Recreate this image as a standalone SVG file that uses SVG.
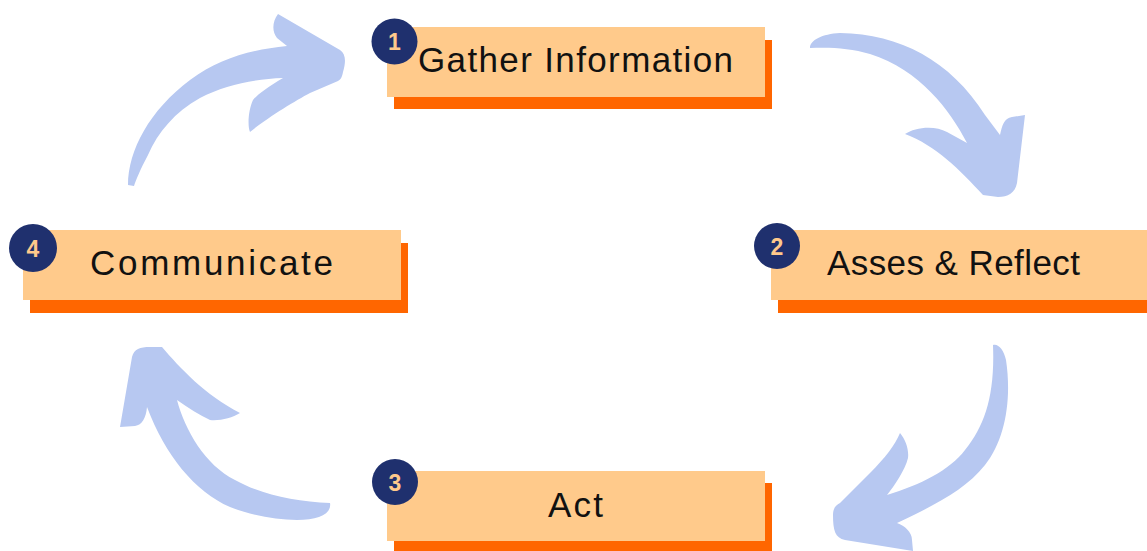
<svg xmlns="http://www.w3.org/2000/svg" width="1147" height="551" viewBox="0 0 1147 551">
<style>
.box{fill:#FFCA8B}
.sh{fill:#FF6600}
.badge{fill:#1F306E}
.num{font-family:"Liberation Sans",Arial,sans-serif;font-weight:bold;font-size:23px;fill:#FFC98B;text-anchor:middle}
.lbl{font-family:"Liberation Sans",Arial,sans-serif;font-size:35px;fill:#111111;text-anchor:middle}
.arr{fill:#B7C8F1}
</style>
<rect width="1147" height="551" fill="#FFFFFF"/>
<g id="connectors">
<path class="arr" d="M 128,185 C 128,150 150,110 190,80 C 220,58 250,50 287,46 L 277,38 C 272,32 272,22 278,14 L 340,50 C 346,54 346,62 343,72 C 342,78 340,80 338,81 L 310,93 C 295,101 267,118 250,132 C 247,125 249,108 253,100 C 258,94 268,87 283,78 C 255,79 225,85 200,98 C 175,112 158,132 148,155 C 140,170 136,180 134,186 Z"/>
<path class="arr" d="M 810,48 C 810,40 822,34 840,33 C 900,34 950,60 985,115 L 1000,135 C 1002,126 1004,118 1012,117 L 1025,115 L 1017,183 C 1015,193 1008,197 998,197 L 983,195 C 960,170 935,145 905,134 C 915,127 935,125 947,132 L 967,143 C 950,110 920,70 870,54 C 850,48 830,47 810,48 Z"/>
<path class="arr" d="M 993,345 C 998,343 1004,350 1006,360 C 1012,400 1005,440 985,465 C 965,490 935,505 897,523 C 905,526 912,532 912,540 L 913,551 L 845,540 C 835,538 833,530 833,515 C 833,508 836,505 840,503 L 870,473 C 885,458 895,445 900,433 C 906,440 909,450 908,458 C 905,470 895,485 887,495 C 920,485 950,470 965,450 C 985,425 995,395 993,345 Z"/>
<path class="arr" d="M 132,357 C 134,349 140,347 150,347 L 162,347 C 180,368 205,395 240,413 C 232,418 220,421 210,420 C 200,415 188,408 177,400 C 185,430 205,465 235,480 C 260,494 295,502 330,503 C 332,514 318,520 297,520 C 275,520 250,515 230,507 C 195,492 165,455 147,407 C 146,418 142,425 135,426 L 120,427 Z"/>
</g>
<g id="node1">
<rect class="sh" x="394" y="40" width="378" height="69"/>
<rect class="box" x="387" y="27" width="378" height="70"/>
<circle class="badge" cx="394.5" cy="41.5" r="23"/>
<text class="num" x="394.5" y="50">1</text>
<text class="lbl" x="575.5" y="72" textLength="315">Gather Information</text>
</g>
<g id="node2">
<rect class="sh" x="778" y="243" width="378" height="70"/>
<rect class="box" x="771" y="230" width="378" height="70"/>
<circle class="badge" cx="777" cy="246" r="23"/>
<text class="num" x="777" y="254.5">2</text>
<text class="lbl" x="953.5" y="275" textLength="253">Asses &amp; Reflect</text>
</g>
<g id="node3">
<rect class="sh" x="394" y="483" width="378" height="70"/>
<rect class="box" x="387" y="471" width="378" height="70"/>
<circle class="badge" cx="395" cy="482" r="23"/>
<text class="num" x="395" y="490.5">3</text>
<text class="lbl" x="575.5" y="517" textLength="55">Act</text>
</g>
<g id="node4">
<rect class="sh" x="30" y="243" width="378" height="70"/>
<rect class="box" x="23" y="230" width="378" height="70"/>
<circle class="badge" cx="33" cy="248" r="24"/>
<text class="num" x="33" y="256.5">4</text>
<text class="lbl" x="211.5" y="275" textLength="243">Communicate</text>
</g>
</svg>
